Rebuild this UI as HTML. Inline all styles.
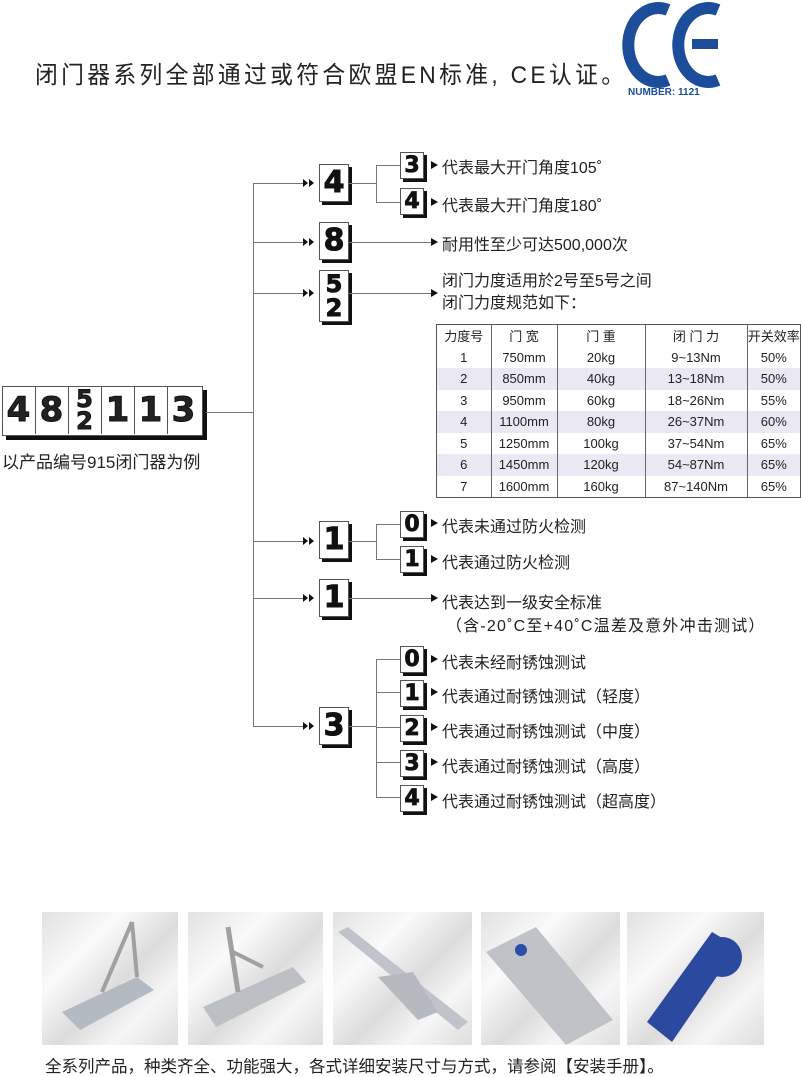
<!DOCTYPE html>
<html><head><meta charset="utf-8">
<style>
body{margin:0;width:801px;height:1074px;background:#fff;position:relative;overflow:hidden;font-family:"Liberation Sans","Noto Sans CJK SC",sans-serif;color:#222}
.a{position:absolute}
.ln{position:absolute;background:#777}
.bb{position:absolute;width:28px;height:36px;background:#fff;border:1px solid #555;box-shadow:3px 3px 0 #111;font:900 30px/36px "DejaVu Sans",sans-serif;text-align:center;color:#111;-webkit-text-stroke:1px #111}
.sb{position:absolute;width:22px;height:25px;background:#fff;border:1px solid #555;box-shadow:3px 3px 0 #111;font:900 22px/25px "DejaVu Sans",sans-serif;text-align:center;color:#111;-webkit-text-stroke:.8px #111}
.lb{position:absolute;font-size:16px;white-space:nowrap;color:#222}
.ar{position:absolute;width:0;height:0;border-top:4px solid transparent;border-bottom:4px solid transparent;border-left:7px solid #111}
table{border-collapse:collapse;font-size:13px}
td{border-right:1px solid #666;text-align:center;height:21.5px;padding:0}
td:last-child{border-right:none}
tr.s td{background:#e9e8f3}
.ph{position:absolute;top:912px;height:133px;background:linear-gradient(135deg,#e2e2e2,#fafafa 30%,#dcdcdc 55%,#f6f6f6 75%,#dedede)}
.nc{position:absolute;top:386px;width:33px;height:48px;border-right:1px solid #555;font:900 34px/48px "DejaVu Sans",sans-serif;text-align:center;-webkit-text-stroke:1px #111}
</style></head><body>

<div class="a" style="left:35px;top:55px;font-size:24px;letter-spacing:3.5px;transform:scaleX(0.95);transform-origin:left">闭门器系列全部通过或符合欧盟EN标准, CE认证。</div>
<svg class="a" style="left:612px;top:0" width="115" height="90">
<path d="M56 10 A30 37 0 1 0 56 80" fill="none" stroke="#1b4d9b" stroke-width="12"/>
<path d="M106 10 A30 37 0 1 0 106 80" fill="none" stroke="#1b4d9b" stroke-width="12"/>
<rect x="80" y="39" width="26" height="10" fill="#1b4d9b"/>
</svg>
<div class="a" style="left:628px;top:87px;font:bold 10px 'Liberation Sans',sans-serif;color:#1b4d9b">NUMBER: 1121</div>

<div class="a" style="left:2px;top:386px;width:199px;height:48px;border:1px solid #555;box-shadow:4px 4px 0 #111;background:#fff"></div>
<div class="nc" style="left:2px">4</div>
<div class="nc" style="left:35px">8</div>
<div class="nc" style="left:68px;font-size:24px;line-height:22px;padding-top:2px;height:46px">5<br>2</div>
<div class="nc" style="left:101px">1</div>
<div class="nc" style="left:134px">1</div>
<div class="nc" style="left:167px;border-right:none">3</div>
<div class="a" style="left:2px;top:448px;font-size:17px">以产品编号915闭门器为例</div>

<div class="ln" style="left:206px;top:412px;width:48px;height:1px"></div>
<div class="ln" style="left:253px;top:183px;width:1px;height:544px"></div>
<div class="ln" style="left:253px;top:183px;width:52px;height:1px"></div>
<div class="ln" style="left:253px;top:242px;width:52px;height:1px"></div>
<div class="ln" style="left:253px;top:293px;width:52px;height:1px"></div>
<div class="ln" style="left:253px;top:541px;width:52px;height:1px"></div>
<div class="ln" style="left:253px;top:598px;width:52px;height:1px"></div>
<div class="ln" style="left:253px;top:726px;width:52px;height:1px"></div>
<div class="ar" style="left:303px;top:179px;border-left-width:5px"></div><div class="ar" style="left:309px;top:179px;border-left-width:5px"></div>
<div class="ar" style="left:303px;top:238px;border-left-width:5px"></div><div class="ar" style="left:309px;top:238px;border-left-width:5px"></div>
<div class="ar" style="left:303px;top:289px;border-left-width:5px"></div><div class="ar" style="left:309px;top:289px;border-left-width:5px"></div>
<div class="ar" style="left:303px;top:537px;border-left-width:5px"></div><div class="ar" style="left:309px;top:537px;border-left-width:5px"></div>
<div class="ar" style="left:303px;top:594px;border-left-width:5px"></div><div class="ar" style="left:309px;top:594px;border-left-width:5px"></div>
<div class="ar" style="left:303px;top:722px;border-left-width:5px"></div><div class="ar" style="left:309px;top:722px;border-left-width:5px"></div>

<div class="bb" style="left:319px;top:164px">4</div>
<div class="bb" style="left:319px;top:222px">8</div>
<div class="bb" style="left:319px;top:270px;font-size:24px;line-height:24px;padding-top:1px;height:49px">5<br>2</div>
<div class="bb" style="left:319px;top:521px">1</div>
<div class="bb" style="left:319px;top:579px">1</div>
<div class="bb" style="left:319px;top:707px">3</div>

<div class="ln" style="left:349px;top:183px;width:27px;height:1px"></div>
<div class="ln" style="left:376px;top:165px;width:1px;height:38px"></div>
<div class="ln" style="left:376px;top:165px;width:24px;height:1px"></div>
<div class="ln" style="left:376px;top:202px;width:24px;height:1px"></div>
<div class="sb" style="left:400px;top:152px">3</div>
<div class="sb" style="left:400px;top:188px">4</div>
<div class="ar" style="left:431px;top:161px"></div>
<div class="ar" style="left:431px;top:198px"></div>
<div class="lb" style="left:442px;top:154px">代表最大开门角度105˚</div>
<div class="lb" style="left:442px;top:192px">代表最大开门角度180˚</div>

<div class="ln" style="left:349px;top:242px;width:82px;height:1px"></div>
<div class="ar" style="left:431px;top:238px"></div>
<div class="lb" style="left:442px;top:231px">耐用性至少可达500,000次</div>

<div class="ln" style="left:349px;top:293px;width:82px;height:1px"></div>
<div class="ar" style="left:431px;top:289px"></div>
<div class="lb" style="left:442px;top:271px;line-height:22px">闭门力度适用於2号至5号之间<br>闭门力度规范如下：</div>

<div class="a" style="left:436px;top:324px;width:363px;border:1px solid #555">
<table style="width:363px">
<colgroup><col style="width:54px"><col style="width:66px"><col style="width:88px"><col style="width:102px"><col></colgroup>
<tr><td>力度号</td><td>门 宽</td><td>门 重</td><td>闭 门 力</td><td>开关效率</td></tr>
<tr><td>1</td><td>750mm</td><td>20kg</td><td>9~13Nm</td><td>50%</td></tr>
<tr class="s"><td>2</td><td>850mm</td><td>40kg</td><td>13~18Nm</td><td>50%</td></tr>
<tr><td>3</td><td>950mm</td><td>60kg</td><td>18~26Nm</td><td>55%</td></tr>
<tr class="s"><td>4</td><td>1100mm</td><td>80kg</td><td>26~37Nm</td><td>60%</td></tr>
<tr><td>5</td><td>1250mm</td><td>100kg</td><td>37~54Nm</td><td>65%</td></tr>
<tr class="s"><td>6</td><td>1450mm</td><td>120kg</td><td>54~87Nm</td><td>65%</td></tr>
<tr><td>7</td><td>1600mm</td><td>160kg</td><td>87~140Nm</td><td>65%</td></tr>
</table></div>

<div class="ln" style="left:349px;top:541px;width:27px;height:1px"></div>
<div class="ln" style="left:376px;top:524px;width:1px;height:36px"></div>
<div class="ln" style="left:376px;top:524px;width:24px;height:1px"></div>
<div class="ln" style="left:376px;top:559px;width:24px;height:1px"></div>
<div class="sb" style="left:400px;top:511px">0</div>
<div class="sb" style="left:400px;top:546px">1</div>
<div class="ar" style="left:431px;top:519px"></div>
<div class="ar" style="left:431px;top:555px"></div>
<div class="lb" style="left:442px;top:513px">代表未通过防火检测</div>
<div class="lb" style="left:442px;top:549px">代表通过防火检测</div>

<div class="ln" style="left:349px;top:598px;width:82px;height:1px"></div>
<div class="ar" style="left:431px;top:594px"></div>
<div class="lb" style="left:442px;top:589px">代表达到一级安全标准</div>
<div class="lb" style="left:446px;top:612px;letter-spacing:1.2px">（含-20˚C至+40˚C温差及意外冲击测试）</div>

<div class="ln" style="left:349px;top:726px;width:27px;height:1px"></div>
<div class="ln" style="left:376px;top:659px;width:1px;height:138px"></div>
<div class="ln" style="left:376px;top:659px;width:24px;height:1px"></div>
<div class="ln" style="left:376px;top:692px;width:24px;height:1px"></div>
<div class="ln" style="left:376px;top:727px;width:24px;height:1px"></div>
<div class="ln" style="left:376px;top:762px;width:24px;height:1px"></div>
<div class="ln" style="left:376px;top:797px;width:24px;height:1px"></div>
<div class="sb" style="left:400px;top:646px">0</div>
<div class="sb" style="left:400px;top:680px">1</div>
<div class="sb" style="left:400px;top:715px">2</div>
<div class="sb" style="left:400px;top:750px">3</div>
<div class="sb" style="left:400px;top:785px">4</div>
<div class="ar" style="left:431px;top:655px"></div>
<div class="ar" style="left:431px;top:688px"></div>
<div class="ar" style="left:431px;top:723px"></div>
<div class="ar" style="left:431px;top:758px"></div>
<div class="ar" style="left:431px;top:793px"></div>
<div class="lb" style="left:442px;top:649px">代表未经耐锈蚀测试</div>
<div class="lb" style="left:442px;top:683px">代表通过耐锈蚀测试（轻度）</div>
<div class="lb" style="left:442px;top:718px">代表通过耐锈蚀测试（中度）</div>
<div class="lb" style="left:442px;top:753px">代表通过耐锈蚀测试（高度）</div>
<div class="lb" style="left:442px;top:788px">代表通过耐锈蚀测试（超高度）</div>

<div class="ph" style="left:42px;width:136px"><svg width="136" height="133"><polygon points="20,100 95,65 112,78 38,118" fill="#b4bac2"/><line x1="60" y1="80" x2="90" y2="10" stroke="#a0a0a0" stroke-width="4"/><line x1="90" y1="10" x2="95" y2="65" stroke="#a0a0a0" stroke-width="4"/></svg></div>
<div class="ph" style="left:188px;width:135px"><svg width="135" height="133"><polygon points="15,95 105,55 118,70 28,115" fill="#bcc0c5"/><line x1="40" y1="15" x2="50" y2="80" stroke="#a0a0a0" stroke-width="5"/><line x1="45" y1="40" x2="75" y2="55" stroke="#a0a0a0" stroke-width="4"/></svg></div>
<div class="ph" style="left:333px;width:139px"><svg width="139" height="133"><polygon points="5,20 15,15 135,110 125,118" fill="#c0c4ca"/><polygon points="45,65 80,60 105,100 85,108" fill="#b6bac0"/></svg></div>
<div class="ph" style="left:481px;width:139px"><svg width="139" height="133"><polygon points="5,40 55,15 132,108 85,133" fill="#bfc2c6"/><circle cx="40" cy="38" r="6" fill="#2a4fa8"/></svg></div>
<div class="ph" style="left:627px;width:137px"><svg width="137" height="133"><polygon points="20,110 85,20 110,35 45,130" fill="#2c49a0"/><circle cx="95" cy="45" r="20" fill="#2c49a0"/></svg></div>
<div class="a" style="left:45px;top:1053px;font-size:16.5px;white-space:nowrap">全系列产品，种类齐全、功能强大，各式详细安装尺寸与方式，请参阅【安装手册】。</div>
</body></html>
